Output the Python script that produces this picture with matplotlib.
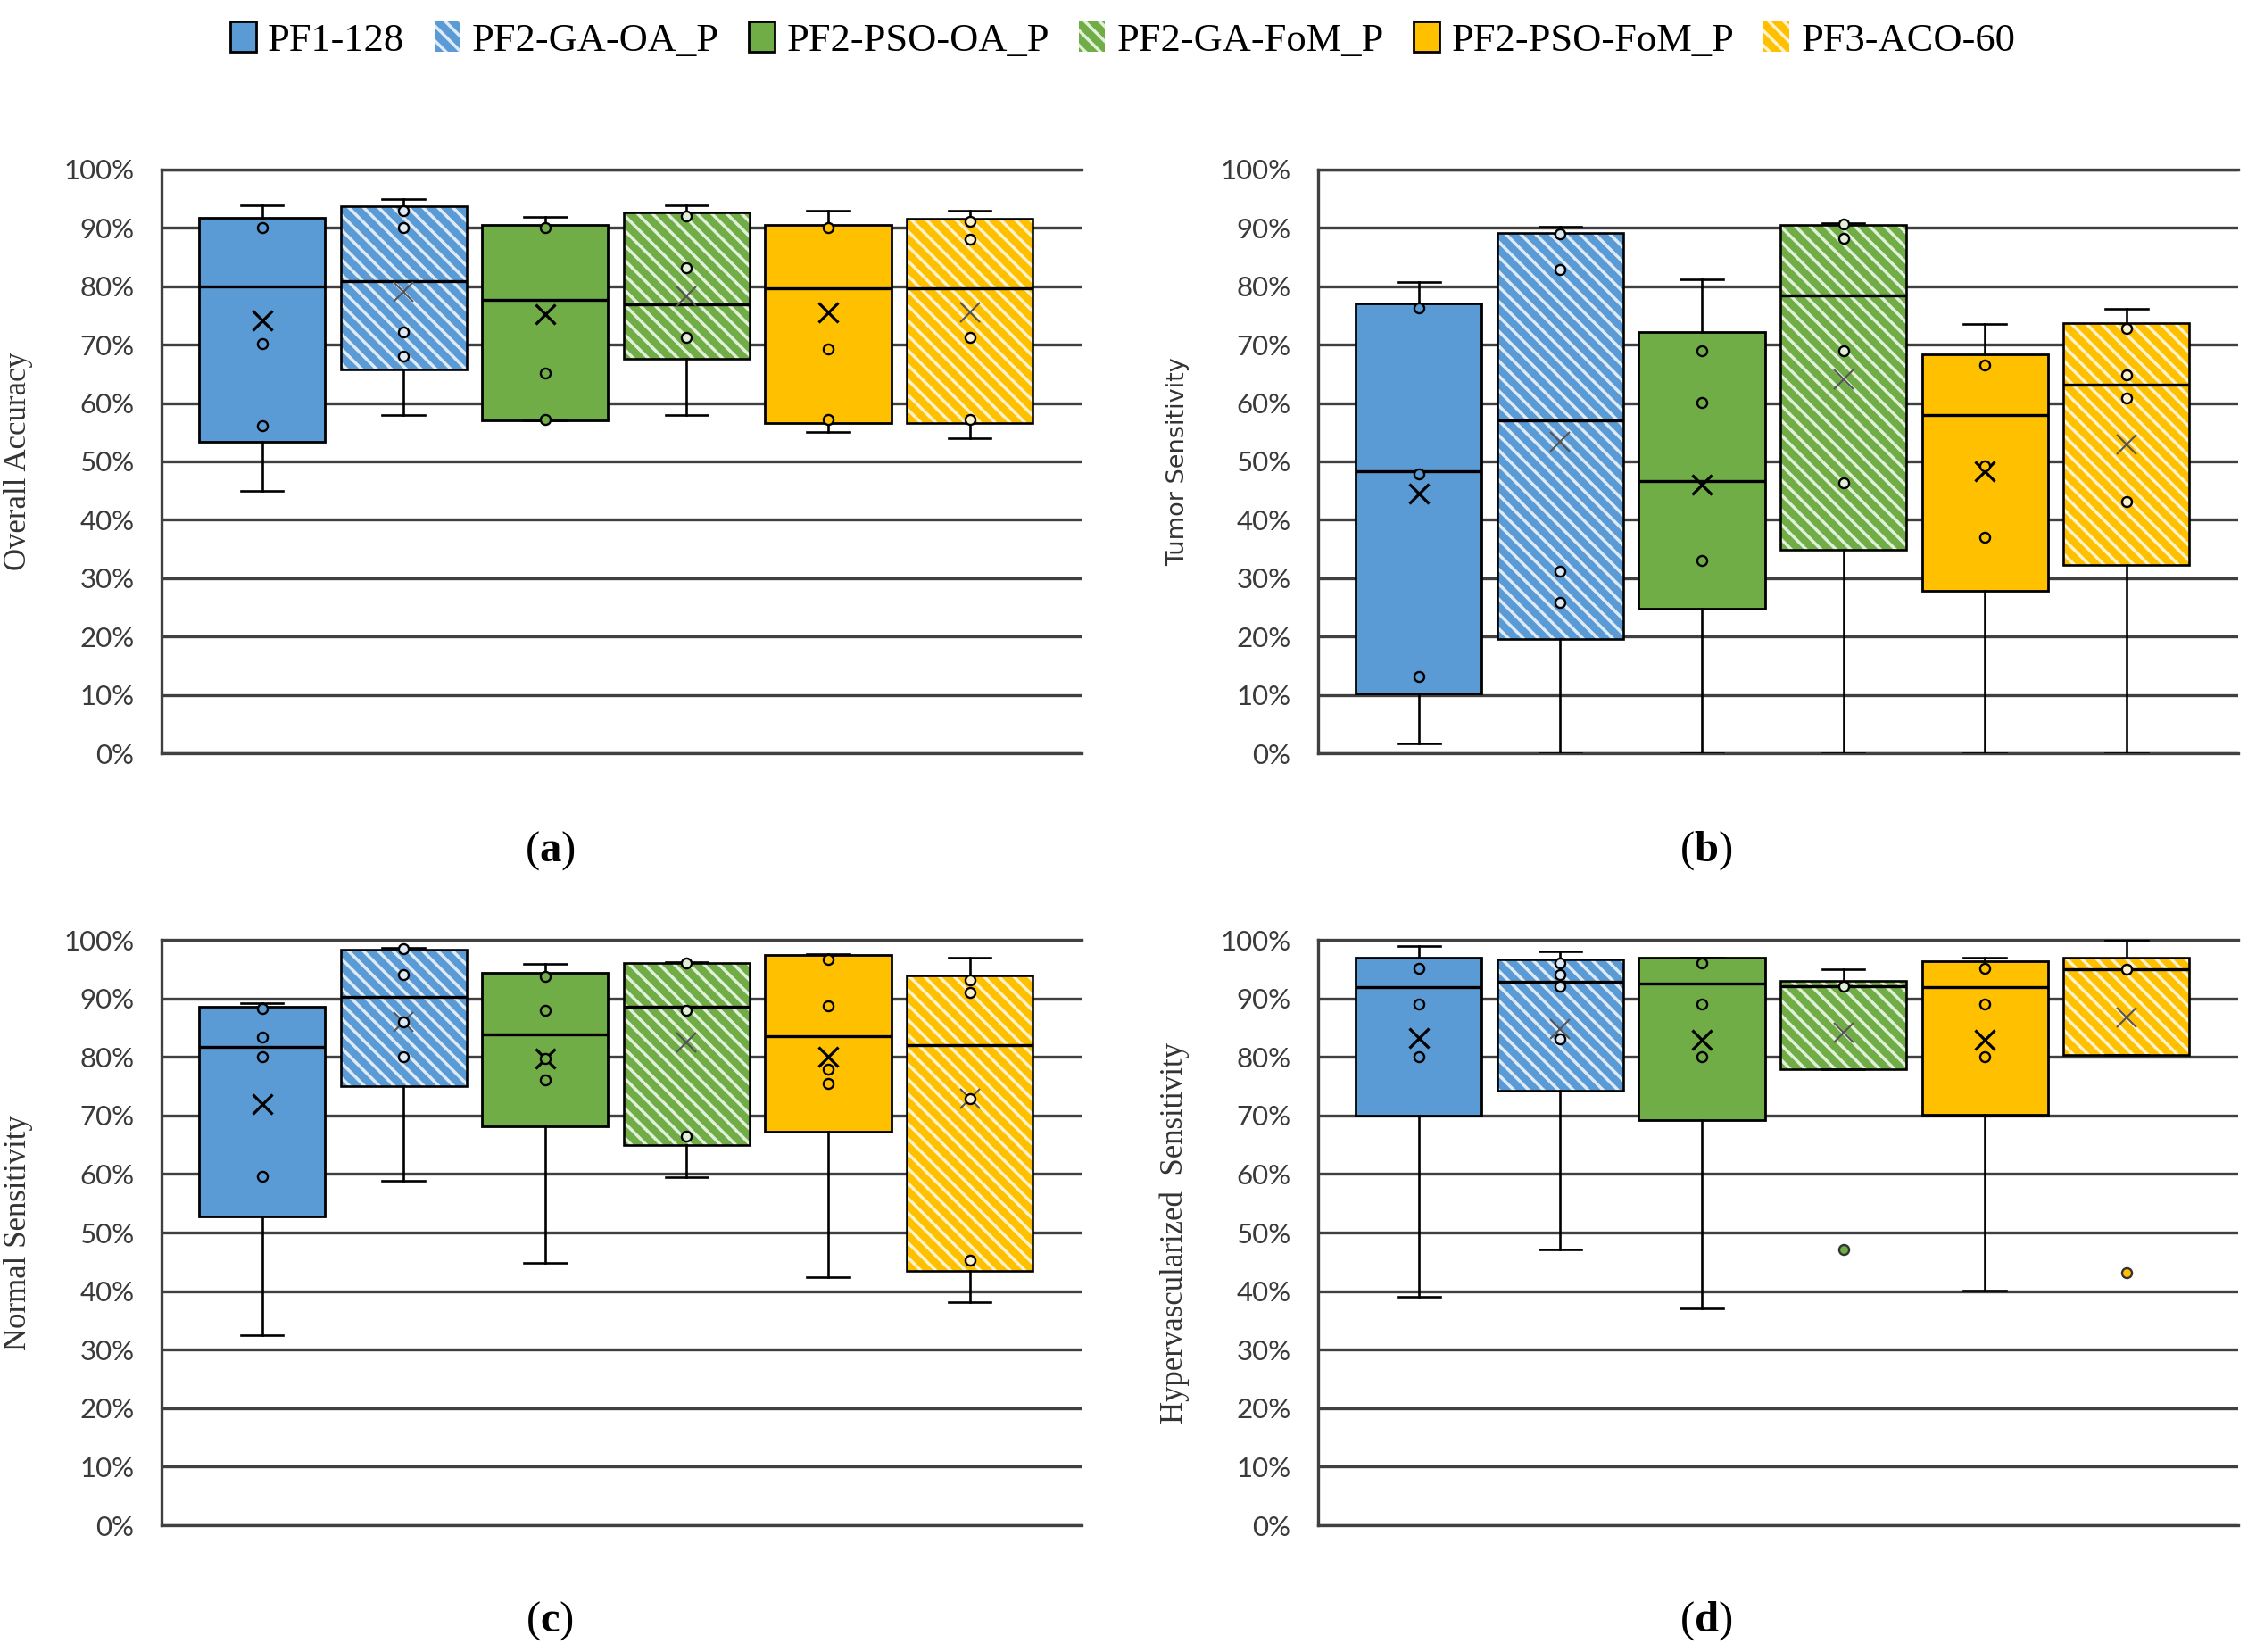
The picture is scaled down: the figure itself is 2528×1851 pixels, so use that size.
import matplotlib
matplotlib.use('Agg')
import matplotlib.pyplot as plt
from matplotlib.patches import Patch, PathPatch
from matplotlib.ticker import PercentFormatter

# series names and styles
series = ['PF1-128', 'PF2-GA-OA_P', 'PF2-PSO-OA_P', 'PF2-GA-FoM_P', 'PF2-PSO-FoM_P', 'PF3-ACO-60']
main_colors = ['#5B9BD5', '#5B9BD5', '#70AD47', '#70AD47', '#FFC000', '#FFC000']
light_colors = ['#5B9BD5', '#DEEBF7', '#70AD47', '#E2F0D9', '#FFC000', '#FFF2CC']
hatched = [False, True, False, True, False, True]

# (a) Overall Accuracy, values in %
acc_q1 = [53.3, 65.7, 57.0, 67.6, 56.6, 56.5]
acc_med = [80.0, 80.9, 77.7, 76.9, 79.7, 79.7]
acc_q3 = [91.7, 93.7, 90.5, 92.6, 90.5, 91.6]
acc_lo = [45.0, 58.0, 57.0, 58.0, 55.0, 54.0]
acc_hi = [93.9, 94.9, 91.9, 93.9, 93.0, 93.0]
acc_mean = [74.2, 79.1, 75.2, 78.3, 75.6, 75.6]
acc_pts = [[90.1, 70.2, 56.1], [93.0, 90.1, 72.1, 68.1], [90.1, 65.2, 57.2],
           [92.1, 83.1, 71.2], [90.1, 69.2, 57.2], [91.1, 88.0, 71.2, 57.2]]
acc_out = [[], [], [], [], [], []]

# (b) Tumor Sensitivity
tum_q1 = [10.3, 19.5, 24.8, 34.9, 27.9, 32.3]
tum_med = [48.3, 57.0, 46.7, 78.5, 58.0, 63.2]
tum_q3 = [77.1, 89.1, 72.1, 90.5, 68.4, 73.7]
tum_lo = [1.7, 0.0, 0.0, 0.0, 0.0, 0.0]
tum_hi = [80.8, 90.2, 81.2, 90.8, 73.5, 76.1]
tum_mean = [44.5, 53.3, 46.0, 64.1, 48.3, 52.9]
tum_pts = [[76.3, 47.8, 13.2], [89.0, 82.9, 31.2, 25.9], [68.9, 60.1, 33.1],
           [90.6, 88.2, 68.9, 46.4], [66.5, 49.2, 37.0], [72.8, 64.8, 60.8, 43.1]]
tum_out = [[], [], [], [], [], []]

# (c) Normal Sensitivity
nor_q1 = [52.8, 75.0, 68.2, 64.9, 67.2, 43.4]
nor_med = [81.7, 90.3, 83.9, 88.6, 83.6, 82.0]
nor_q3 = [88.6, 98.3, 94.3, 96.0, 97.4, 93.9]
nor_lo = [32.4, 58.8, 44.8, 59.4, 42.4, 38.1]
nor_hi = [89.2, 98.6, 95.9, 96.2, 97.6, 97.0]
nor_mean = [72.0, 86.0, 79.8, 82.5, 80.0, 72.8]
nor_pts = [[88.3, 83.4, 80.0, 59.6], [98.5, 94.1, 86.0, 80.0], [93.7, 88.0, 79.8, 76.1],
           [96.0, 88.0, 66.5], [96.6, 88.8, 77.9, 75.4], [93.2, 91.0, 72.8, 45.3]]
nor_out = [[], [], [], [], [], []]

# (d) Hypervascularized Sensitivity
hyp_q1 = [69.9, 74.2, 69.2, 77.9, 70.2, 80.4]
hyp_med = [92.0, 92.9, 92.6, 92.1, 92.0, 95.0]
hyp_q3 = [97.0, 96.6, 97.0, 93.0, 96.4, 97.0]
hyp_lo = [39.0, 47.1, 37.0, 77.9, 40.1, 80.4]
hyp_hi = [98.9, 98.0, 97.0, 94.9, 97.0, 100.0]
hyp_mean = [83.2, 84.8, 82.9, 84.2, 82.9, 86.8]
hyp_pts = [[95.1, 89.0, 80.0], [96.1, 94.1, 92.1, 83.1], [96.1, 89.0, 80.0],
           [92.1], [95.1, 89.0, 80.0], [95.0]]
hyp_out = [[], [], [], [47.1], [], [43.2]]

panels = [
    ('Overall Accuracy', 'serif', '(a)', acc_q1, acc_med, acc_q3, acc_lo, acc_hi, acc_mean, acc_pts, acc_out),
    ('Tumor Sensitivity', 'sans', '(b)', tum_q1, tum_med, tum_q3, tum_lo, tum_hi, tum_mean, tum_pts, tum_out),
    ('Normal Sensitivity', 'serif', '(c)', nor_q1, nor_med, nor_q3, nor_lo, nor_hi, nor_mean, nor_pts, nor_out),
    ('Hypervascularized  Sensitivity', 'serif', '(d)', hyp_q1, hyp_med, hyp_q3, hyp_lo, hyp_hi, hyp_mean, hyp_pts, hyp_out),
]

plt.rcParams['hatch.linewidth'] = 6.0
plt.rcParams['mathtext.fontset'] = 'custom'
plt.rcParams['mathtext.bf'] = 'Liberation Serif:bold'
plt.rcParams['mathtext.rm'] = 'Liberation Serif'

fig = plt.figure(figsize=(25.28, 18.51), dpi=100)

axes_pos = [
    [0.0716, 0.5440, 0.4078, 0.3534],
    [0.5843, 0.5440, 0.4078, 0.3534],
    [0.0716, 0.0767, 0.4078, 0.3544],
    [0.5843, 0.0767, 0.4078, 0.3544],
]
label_pos = [(0.2437, 0.4850), (0.7563, 0.4850), (0.2437, 0.0190), (0.7563, 0.0190)]

grid_color = '#404040'
xs = list(range(1, len(series) + 1))

for k, (ylab, yfont, tag, q1, med, q3, lo, hi, mean, pts, out) in enumerate(panels):
    ax = fig.add_axes(axes_pos[k])
    stats = []
    for i in range(len(series)):
        stats.append({'q1': q1[i], 'med': med[i], 'q3': q3[i], 'whislo': lo[i],
                      'whishi': hi[i], 'mean': mean[i], 'fliers': []})
    res = ax.bxp(stats, positions=xs, widths=0.89, capwidths=0.3, patch_artist=True,
                 showmeans=True, showfliers=False,
                 medianprops=dict(color='black', linewidth=2.4),
                 whiskerprops=dict(color='black', linewidth=1.9),
                 capprops=dict(color='black', linewidth=1.9),
                 meanprops=dict(marker='x', markeredgecolor='black', markersize=16,
                                markeredgewidth=2.3, linestyle='none'),
                 zorder=3)
    for i, box in enumerate(res['boxes']):
        if hatched[i]:
            box.set_facecolor(light_colors[i])
            box.set_edgecolor(main_colors[i])
            box.set_hatch('\\\\')
            box.set_linewidth(0)
            ax.add_patch(PathPatch(box.get_path(), facecolor='none', edgecolor='black',
                                   linewidth=1.9, zorder=3.1))
            res['means'][i].set_markeredgecolor('#555555')
            res['means'][i].set_markeredgewidth(1.5)
        else:
            box.set_facecolor(main_colors[i])
            box.set_edgecolor('black')
            box.set_linewidth(2.0)
        res['medians'][i].set_zorder(3.2)
        res['means'][i].set_zorder(3.3)
        # inner points
        ax.plot([xs[i]] * len(pts[i]), pts[i], 'o', markersize=8, markerfacecolor=light_colors[i],
                markeredgecolor='black', markeredgewidth=1.7, linestyle='none', zorder=3.4)
        if out[i]:
            ax.plot([xs[i]] * len(out[i]), out[i], 'o', markersize=8, markerfacecolor=main_colors[i],
                    markeredgecolor='#333333', markeredgewidth=1.7, linestyle='none', zorder=3.4)

    ax.set_xlim(0.29, 6.79)
    ax.set_ylim(0, 100)
    ax.set_yticks(range(0, 101, 10))
    ax.yaxis.set_major_formatter(PercentFormatter(decimals=0))
    ax.set_xticks([])
    ax.tick_params(axis='y', length=0, pad=22, labelsize=22.5, labelcolor='#3a3a3a')
    for t in ax.get_yticklabels():
        t.set_fontfamily('Lato')
    ax.grid(axis='y', color=grid_color, linewidth=2.4)
    ax.set_axisbelow(True)
    for s in ['top', 'bottom', 'left']:
        ax.spines[s].set_color(grid_color)
        ax.spines[s].set_linewidth(2.4)
    ax.spines['right'].set_visible(False)
    if yfont == 'serif':
        ax.set_ylabel(ylab, fontfamily='Liberation Serif', fontsize=25, color='#333333')
    else:
        ax.set_ylabel(ylab, fontfamily='DejaVu Sans', fontsize=19.5, color='#333333')
    ax.yaxis.set_label_coords(-0.14, 0.5)

    fig.text(label_pos[k][0], label_pos[k][1], '(' + r'$\mathbf{' + tag[1] + '}$' + ')',
             ha='center', va='center', fontsize=35, fontfamily='Liberation Serif')

handles = []
for i in range(len(series)):
    if hatched[i]:
        handles.append(Patch(facecolor=light_colors[i], edgecolor=main_colors[i], hatch='\\\\',
                             linewidth=0))
    else:
        handles.append(Patch(facecolor=main_colors[i], edgecolor='black', linewidth=2.0))
leg = fig.legend(handles, series, loc='center', bbox_to_anchor=(0.4977, 0.9757), ncol=6,
                 frameon=False, prop={'family': 'Liberation Serif', 'size': 32},
                 handlelength=0.65, handleheight=0.8, handletextpad=0.3, columnspacing=0.75)

fig.savefig('out.png', dpi=100)
